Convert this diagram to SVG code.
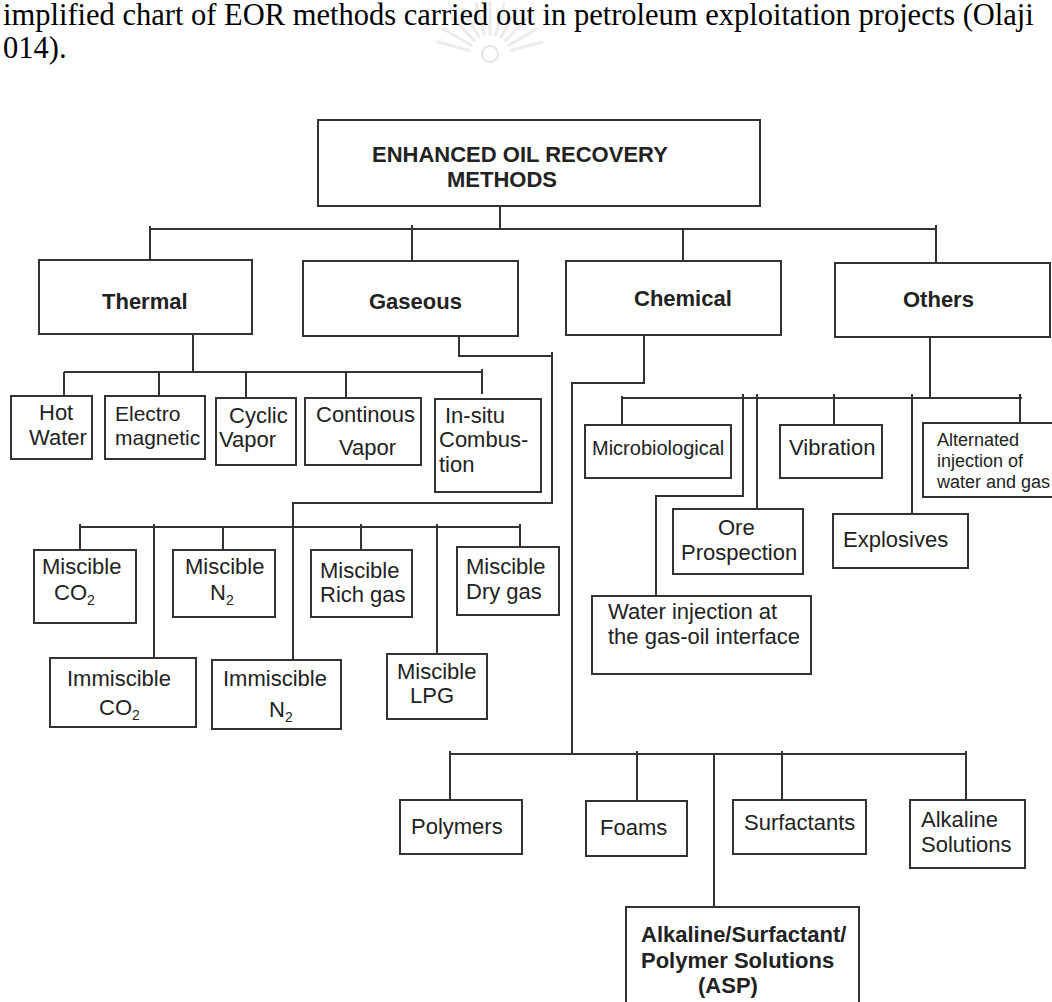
<svg xmlns="http://www.w3.org/2000/svg" width="1052" height="1002" viewBox="0 0 1052 1002">
<style>
.box{fill:#fff;stroke:#333;stroke-width:2}
.ln{stroke:#333;stroke-width:2;fill:none}
.t{font-family:"Liberation Sans",Arial,sans-serif;font-size:22px;fill:#222}
.b{font-weight:bold}
.s{font-size:18px}
.cap{font-family:"Liberation Serif","Times New Roman",serif;font-size:30.5px;fill:#000}
.wm{stroke:#ececec;stroke-width:3;fill:none;stroke-linecap:round}
</style>
<rect width="1052" height="1002" fill="#fff"/>
<g id="watermark">
<path class="wm" d="M511.3 50.3 L542.2 42 M509.1 45 L536.8 29 M505.6 40.4 L528.2 17.8 M501 37 L517 9.2 M495.7 34.7 L504 3.8 M490 34 L490 2 M484.3 34.7 L476 3.8 M479 37 L463 9.2 M474.4 40.4 L451.8 17.8 M470.9 45 L443.2 29 M468.7 50.3 L437.8 42"/>
<circle cx="490" cy="54" r="8" fill="none" stroke="#e4e4e4" stroke-width="2"/>
</g>
<g id="caption">
<text class="cap" x="3" y="25">implified chart of EOR methods carried out in petroleum exploitation projects (Olaji</text>
<text class="cap" x="3" y="58">014).</text>
</g>
<g id="connectors">
<path class="ln" d="M500 206 V229 M150 229 H936 M150 226 V260 M412 225 V261 M683 229 V261 M936 225 V263"/>
<path class="ln" d="M193 334 V372 M64 372 H482 M64 372 V396 M159 372 V396 M246 372 V398 M346 372 V398 M482 369 V394"/>
<path class="ln" d="M459 334 V356 H552 M552 352 V503 H293 V660 M80 527 H521 M80 524 V550 M154 524 V658 M223 527 V550 M361 524 V550 M437 524 V654 M520 524 V547"/>
<path class="ln" d="M644 335 V383 H572 V754 M450 754 H966 M450 751 V800 M637 751 V801 M714 754 V907 M782 751 V800 M966 751 V800"/>
<path class="ln" d="M930 337 V398 M622 398 H1022 M622 396 V425 M743 394 V496 H656 V596 M757 394 V509 M834 394 V425 M912 394 V514 M1020 394 V423"/>
</g>
<g id="n-eor"><rect class="box" x="318" y="120" width="442" height="86"/><text class="t b" x="372" y="162">ENHANCED OIL RECOVERY</text><text class="t b" x="447" y="187">METHODS</text></g>
<g id="n-thermal"><rect class="box" x="39" y="260" width="213" height="74"/><text class="t b" x="102" y="309">Thermal</text></g>
<g id="n-gaseous"><rect class="box" x="303" y="261" width="215" height="75"/><text class="t b" x="369" y="309">Gaseous</text></g>
<g id="n-chemical"><rect class="box" x="566" y="261" width="215" height="74"/><text class="t b" x="634" y="306">Chemical</text></g>
<g id="n-others"><rect class="box" x="835" y="263" width="215" height="74"/><text class="t b" x="903" y="307">Others</text></g>
<g id="n-hotwater"><rect class="box" x="11" y="396" width="81" height="63"/><text class="t" x="39" y="420">Hot</text><text class="t" x="29" y="445">Water</text></g>
<g id="n-electro"><rect class="box" x="105" y="396" width="100" height="63"/><text class="t" x="115" y="421" style="font-size:21px">Electro</text><text class="t" x="115" y="445" style="font-size:21px">magnetic</text></g>
<g id="n-cyclic"><rect class="box" x="216" y="398" width="80" height="67"/><text class="t" x="229" y="423">Cyclic</text><text class="t" x="219" y="447">Vapor</text></g>
<g id="n-continous"><rect class="box" x="305" y="398" width="116" height="67"/><text class="t" x="316" y="422">Continous</text><text class="t" x="339" y="455">Vapor</text></g>
<g id="n-insitu"><rect class="box" x="435" y="399" width="106" height="93"/><text class="t" x="445" y="423">In-situ</text><text class="t" x="439" y="447">Combus-</text><text class="t" x="439" y="472">tion</text></g>
<g id="n-misco2"><rect class="box" x="34" y="550" width="102" height="73"/><text class="t" x="42" y="574">Miscible</text><text class="t" x="54" y="600">CO<tspan font-size="14" dy="5">2</tspan></text></g>
<g id="n-misn2"><rect class="box" x="173" y="550" width="102" height="67"/><text class="t" x="185" y="574">Miscible</text><text class="t" x="210" y="600">N<tspan font-size="14" dy="5">2</tspan></text></g>
<g id="n-misrich"><rect class="box" x="311" y="550" width="101" height="67"/><text class="t" x="320" y="578">Miscible</text><text class="t" x="320" y="602">Rich gas</text></g>
<g id="n-misdry"><rect class="box" x="457" y="547" width="102" height="68"/><text class="t" x="466" y="574">Miscible</text><text class="t" x="466" y="599">Dry gas</text></g>
<g id="n-immco2"><rect class="box" x="50" y="658" width="146" height="69"/><text class="t" x="67" y="686">Immiscible</text><text class="t" x="99" y="715">CO<tspan font-size="14" dy="5">2</tspan></text></g>
<g id="n-immn2"><rect class="box" x="212" y="660" width="129" height="69"/><text class="t" x="223" y="686">Immiscible</text><text class="t" x="269" y="717">N<tspan font-size="14" dy="5">2</tspan></text></g>
<g id="n-lpg"><rect class="box" x="387" y="654" width="100" height="65"/><text class="t" x="397" y="679">Miscible</text><text class="t" x="410" y="703">LPG</text></g>
<g id="n-micro"><rect class="box" x="585" y="425" width="146" height="53"/><text class="t" x="592" y="455" style="font-size:20px">Microbiological</text></g>
<g id="n-vibration"><rect class="box" x="780" y="425" width="102" height="53"/><text class="t" x="789" y="455">Vibration</text></g>
<g id="n-alternated"><rect class="box" x="923" y="423" width="140" height="74"/><text class="t s" x="937" y="446">Alternated</text><text class="t s" x="937" y="467">injection of</text><text class="t s" x="937" y="488">water and gas</text></g>
<g id="n-ore"><rect class="box" x="673" y="509" width="130" height="65"/><text class="t" x="718" y="535">Ore</text><text class="t" x="681" y="560">Prospection</text></g>
<g id="n-explosives"><rect class="box" x="833" y="514" width="135" height="54"/><text class="t" x="843" y="547">Explosives</text></g>
<g id="n-water"><rect class="box" x="592" y="596" width="219" height="78"/><text class="t" x="608" y="619">Water injection at</text><text class="t" x="608" y="644">the gas-oil interface</text></g>
<g id="n-polymers"><rect class="box" x="400" y="800" width="122" height="54"/><text class="t" x="411" y="834">Polymers</text></g>
<g id="n-foams"><rect class="box" x="586" y="801" width="101" height="55"/><text class="t" x="600" y="835">Foams</text></g>
<g id="n-surfactants"><rect class="box" x="733" y="800" width="133" height="54"/><text class="t" x="744" y="830">Surfactants</text></g>
<g id="n-alkaline"><rect class="box" x="910" y="800" width="115" height="68"/><text class="t" x="921" y="827">Alkaline</text><text class="t" x="921" y="852">Solutions</text></g>
<g id="n-asp"><rect class="box" x="626" y="907" width="233" height="110"/><text class="t b" x="641" y="942">Alkaline/Surfactant/</text><text class="t b" x="641" y="968">Polymer Solutions</text><text class="t b" x="698" y="993">(ASP)</text></g>
</svg>
